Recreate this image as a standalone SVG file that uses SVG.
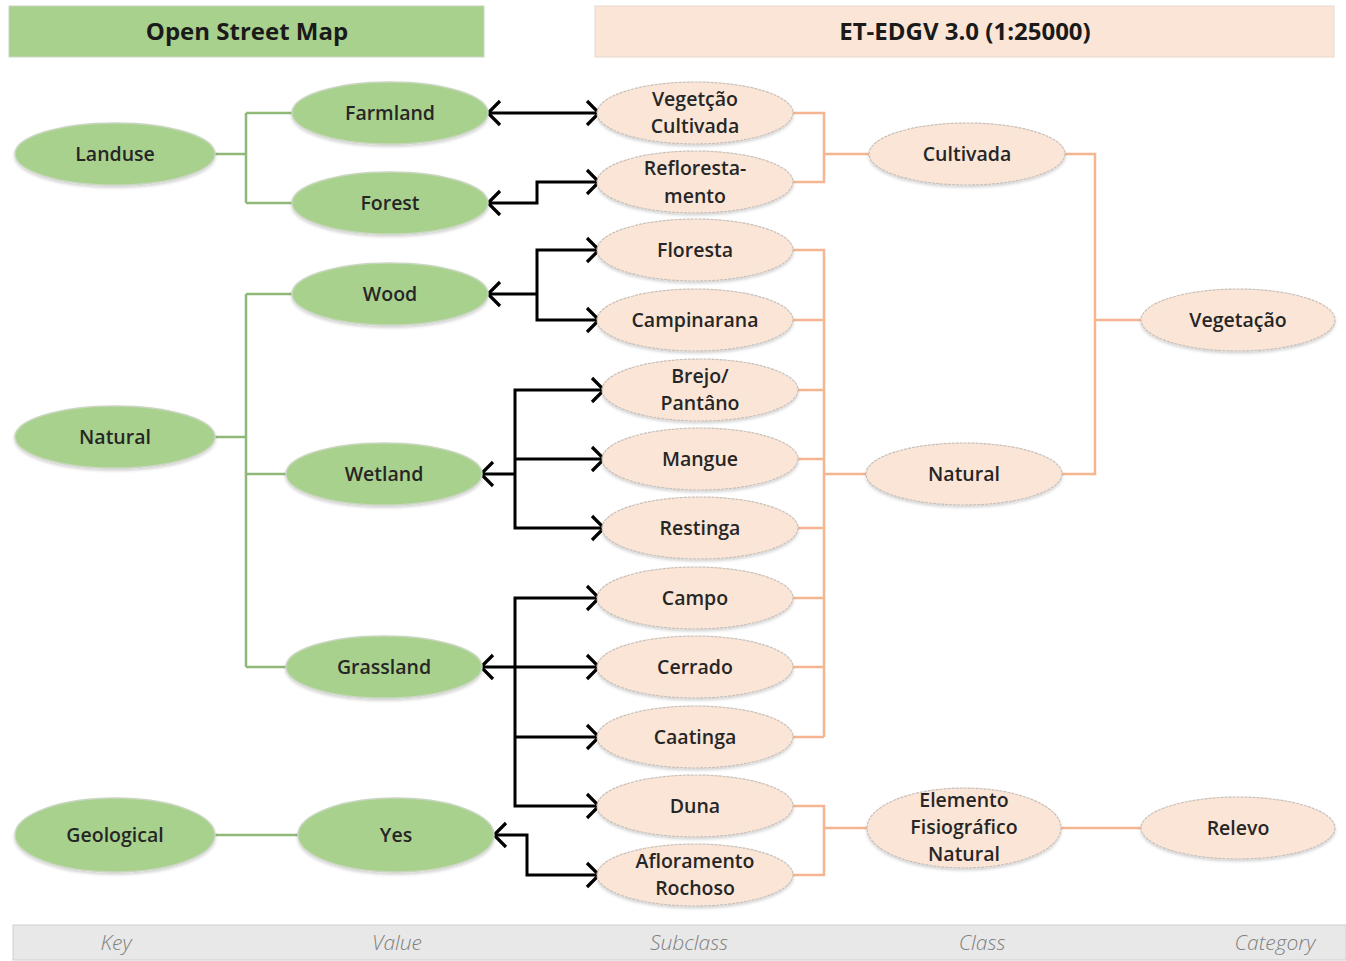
<svg xmlns="http://www.w3.org/2000/svg" width="1346" height="961" viewBox="0 0 1346 961">
<defs>
<marker id="arr" viewBox="0 0 16 28" refX="14" refY="14" markerWidth="16" markerHeight="28" markerUnits="userSpaceOnUse" orient="auto-start-reverse">
<path d="M2,2 L14,14 L2,26" fill="none" stroke="#000" stroke-width="3.2"/>
</marker>
<filter id="sh" x="-10%" y="-20%" width="120%" height="140%">
<feDropShadow dx="0" dy="2" stdDeviation="1.5" flood-color="#000" flood-opacity="0.18"/>
</filter>
</defs>
<style>
.g{fill:#a9d18e;stroke:#c9d6bf;stroke-width:1.5;filter:url(#sh)}
.p{fill:#fbe5d6;stroke:#c8c0ba;stroke-width:1.2;stroke-dasharray:3 1;filter:url(#sh)}
.t{font-family:"Open Sans","Liberation Sans",sans-serif;font-weight:600;font-size:19.5px;fill:#262626;text-anchor:middle}
.h{font-family:"Open Sans","Liberation Sans",sans-serif;font-weight:700;font-size:24px;fill:#1a1a1a;text-anchor:middle}
.f{font-family:"Open Sans","Liberation Sans",sans-serif;font-style:italic;font-weight:300;font-size:21px;fill:#7f7f7f;text-anchor:middle}
.gl{fill:none;stroke:#8fb978;stroke-width:2.5}
.pl{fill:none;stroke:#f4b590;stroke-width:2.5}
.bl{fill:none;stroke:#000;stroke-width:3}
</style>
<rect width="1346" height="961" fill="#fff"/>
<g id="headers">
<rect x="9" y="6" width="475" height="51" fill="#a9d18e" stroke="#c9d6bf"/>
<text class="h" x="247" y="40">Open Street Map</text>
<rect x="595" y="6" width="739" height="51" fill="#fbe5d6" stroke="#e8d8cc"/>
<text class="h" x="965" y="40">ET-EDGV 3.0 (1:25000)</text>
</g>
<g id="footer">
<rect x="13" y="925" width="1333" height="35" fill="#e8e8e8" stroke="#d0d0d0"/>
<text class="f" x="116" y="950">Key</text>
<text class="f" x="397" y="950">Value</text>
<text class="f" x="689" y="950">Subclass</text>
<text class="f" x="982" y="950">Class</text>
<text class="f" x="1275" y="950">Category</text>
</g>
<g id="connectors">
<path class="gl" d="M215,154 H246 M246,113 V203 M246,113 H292 M246,203 H292"/>
<path class="gl" d="M215,437 H246 M246,294 V667 M246,294 H292 M246,474 H286 M246,667 H286"/>
<path class="gl" d="M215,835 H298"/>
<path class="pl" d="M793,113 H824 V182 H793 M824,154 H869"/>
<path class="pl" d="M793,250 H824 V737 M793,320 H824 M798,390 H824 M798,459 H824 M798,528 H824 M793,598 H824 M793,667 H824 M793,737 H824 M824,474 H866"/>
<path class="pl" d="M1065,154 H1095 V474 H1062 M1095,320 H1141"/>
<path class="pl" d="M793,806 H824 V875 H793 M824,828 H867 M1061,828 H1141"/>
<path class="bl" d="M488,113 H599" marker-start="url(#arr)" marker-end="url(#arr)"/>
<path class="bl" d="M488,203 H537 V182 H599" marker-start="url(#arr)" marker-end="url(#arr)"/>
<path class="bl" d="M488,294 H537" marker-start="url(#arr)"/>
<path class="bl" d="M537,294 V250 H599" marker-end="url(#arr)"/>
<path class="bl" d="M537,294 V320 H599" marker-end="url(#arr)"/>
<path class="bl" d="M481,474 H515" marker-start="url(#arr)"/>
<path class="bl" d="M515,474 V390 H604" marker-end="url(#arr)"/>
<path class="bl" d="M515,459 H604" marker-end="url(#arr)"/>
<path class="bl" d="M515,474 V528 H604" marker-end="url(#arr)"/>
<path class="bl" d="M481,667 H515" marker-start="url(#arr)"/>
<path class="bl" d="M515,667 V598 H599" marker-end="url(#arr)"/>
<path class="bl" d="M515,667 H599" marker-end="url(#arr)"/>
<path class="bl" d="M515,667 V806 H599" marker-end="url(#arr)"/>
<path class="bl" d="M515,737 H599" marker-end="url(#arr)"/>
<path class="bl" d="M494,835 H527 V875 H599" marker-start="url(#arr)" marker-end="url(#arr)"/>
</g>
<g id="n-landuse"><ellipse class="g" cx="115" cy="154" rx="100" ry="31"/><text class="t" x="115" y="161">Landuse</text></g>
<g id="n-farmland"><ellipse class="g" cx="390" cy="113" rx="98" ry="31"/><text class="t" x="390" y="120">Farmland</text></g>
<g id="n-forest"><ellipse class="g" cx="390" cy="203" rx="98" ry="31"/><text class="t" x="390" y="210">Forest</text></g>
<g id="n-wood"><ellipse class="g" cx="390" cy="294" rx="98" ry="31"/><text class="t" x="390" y="301">Wood</text></g>
<g id="n-natural-key"><ellipse class="g" cx="115" cy="437" rx="100" ry="31"/><text class="t" x="115" y="444">Natural</text></g>
<g id="n-wetland"><ellipse class="g" cx="384" cy="474" rx="98" ry="31"/><text class="t" x="384" y="481">Wetland</text></g>
<g id="n-grassland"><ellipse class="g" cx="384" cy="667" rx="98" ry="31"/><text class="t" x="384" y="674">Grassland</text></g>
<g id="n-geological"><ellipse class="g" cx="115" cy="835" rx="100" ry="37"/><text class="t" x="115" y="842">Geological</text></g>
<g id="n-yes"><ellipse class="g" cx="396" cy="835" rx="98" ry="37"/><text class="t" x="396" y="842">Yes</text></g>
<g id="s-vegcult"><ellipse class="p" cx="695" cy="113" rx="98" ry="31"/><text class="t" x="695" y="106">Vegetção</text><text class="t" x="695" y="133">Cultivada</text></g>
<g id="s-reflor"><ellipse class="p" cx="695" cy="182" rx="98" ry="31"/><text class="t" x="695" y="175">Refloresta-</text><text class="t" x="695" y="203">mento</text></g>
<g id="s-floresta"><ellipse class="p" cx="695" cy="250" rx="98" ry="31"/><text class="t" x="695" y="257">Floresta</text></g>
<g id="s-campinarana"><ellipse class="p" cx="695" cy="320" rx="98" ry="31"/><text class="t" x="695" y="327">Campinarana</text></g>
<g id="s-brejo"><ellipse class="p" cx="700" cy="390" rx="98" ry="31"/><text class="t" x="700" y="383">Brejo/</text><text class="t" x="700" y="410">Pantâno</text></g>
<g id="s-mangue"><ellipse class="p" cx="700" cy="459" rx="98" ry="31"/><text class="t" x="700" y="466">Mangue</text></g>
<g id="s-restinga"><ellipse class="p" cx="700" cy="528" rx="98" ry="31"/><text class="t" x="700" y="535">Restinga</text></g>
<g id="s-campo"><ellipse class="p" cx="695" cy="598" rx="98" ry="31"/><text class="t" x="695" y="605">Campo</text></g>
<g id="s-cerrado"><ellipse class="p" cx="695" cy="667" rx="98" ry="31"/><text class="t" x="695" y="674">Cerrado</text></g>
<g id="s-caatinga"><ellipse class="p" cx="695" cy="737" rx="98" ry="31"/><text class="t" x="695" y="744">Caatinga</text></g>
<g id="s-duna"><ellipse class="p" cx="695" cy="806" rx="98" ry="31"/><text class="t" x="695" y="813">Duna</text></g>
<g id="s-aflor"><ellipse class="p" cx="695" cy="875" rx="98" ry="31"/><text class="t" x="695" y="868">Afloramento</text><text class="t" x="695" y="895">Rochoso</text></g>
<g id="c-cultivada"><ellipse class="p" cx="967" cy="154" rx="98" ry="31"/><text class="t" x="967" y="161">Cultivada</text></g>
<g id="c-natural"><ellipse class="p" cx="964" cy="474" rx="98" ry="31"/><text class="t" x="964" y="481">Natural</text></g>
<g id="c-elemento"><ellipse class="p" cx="964" cy="828" rx="97" ry="40"/><text class="t" x="964" y="807">Elemento</text><text class="t" x="964" y="834">Fisiográfico</text><text class="t" x="964" y="861">Natural</text></g>
<g id="k-vegetacao"><ellipse class="p" cx="1238" cy="320" rx="97" ry="31"/><text class="t" x="1238" y="327">Vegetação</text></g>
<g id="k-relevo"><ellipse class="p" cx="1238" cy="828" rx="97" ry="31"/><text class="t" x="1238" y="835">Relevo</text></g>
</svg>
